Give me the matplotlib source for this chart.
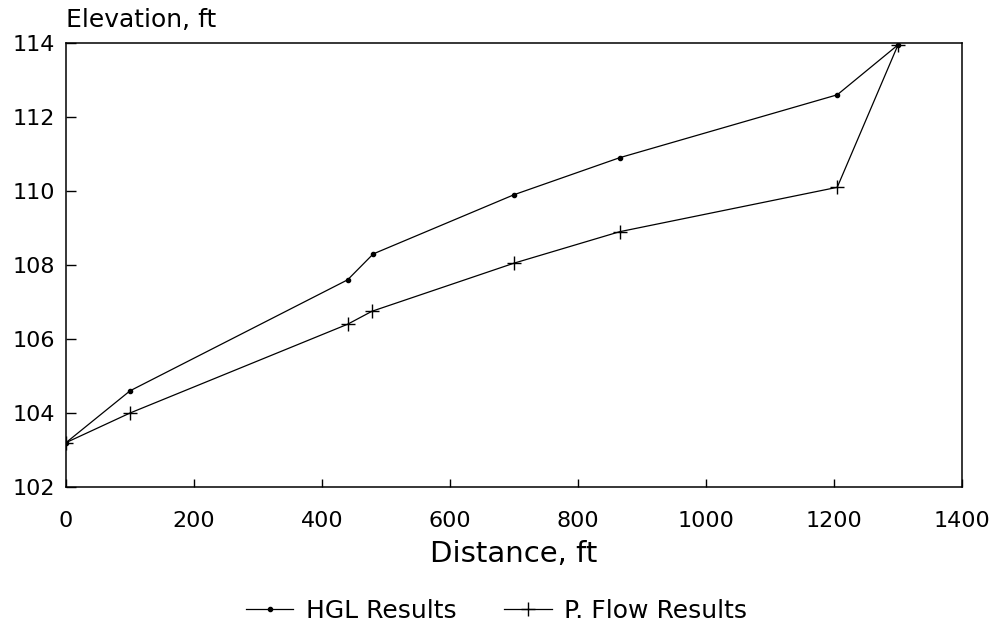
import matplotlib
matplotlib.use('Agg')
import matplotlib.pyplot as plt

# Hydraulic grade line vs. pressure-flow computation along the pipe run
distance_hgl = [0, 100, 440, 480, 700, 865, 1205, 1300]
elev_hgl = [103.2, 104.6, 107.6, 108.3, 109.9, 110.9, 112.6, 113.95]

distance_pflow = [0, 100, 440, 478, 700, 865, 1205, 1300]
elev_pflow = [103.2, 104.0, 106.4, 106.75, 108.05, 108.9, 110.1, 113.95]

x_ticks = [0, 200, 400, 600, 800, 1000, 1200, 1400]
y_ticks = [102, 104, 106, 108, 110, 112, 114]

plt.rcParams['font.family'] = ['DejaVu Sans']

fig = plt.figure(figsize=(9.93, 6.26), dpi=100)
ax = fig.add_axes([0.0665, 0.222, 0.9023, 0.7093])

ax.plot(distance_hgl, elev_hgl, color='black', linewidth=0.9,
        marker='o', markersize=3, label='HGL Results')
ax.plot(distance_pflow, elev_pflow, color='black', linewidth=0.9,
        marker='+', markersize=10, markeredgewidth=1.0, label='P. Flow Results')

ax.set_xlim(0, 1400)
ax.set_ylim(102, 114)
ax.set_xticks(x_ticks)
ax.set_yticks(y_ticks)

for side in ['left', 'right', 'top', 'bottom']:
    ax.spines[side].set_linewidth(1.1)
    ax.spines[side].set_color('black')

ax.tick_params(axis='y', direction='in', length=7, width=1, pad=8,
               labelsize=16, right=False)
ax.tick_params(axis='x', direction='in', length=6, width=1, pad=17,
               labelsize=16, top=False)

ax.set_xlabel('Distance, ft', fontsize=21, labelpad=7)
ax.text(0.0, 1.025, 'Elevation, ft', transform=ax.transAxes,
        fontsize=18, ha='left', va='bottom')

fig.legend(loc='center', bbox_to_anchor=(0.5, 0.024), ncol=2, frameon=False,
           fontsize=18, handlelength=1.9, handletextpad=0.5,
           columnspacing=1.9)

fig.savefig('out.png', dpi=100, facecolor='white')
